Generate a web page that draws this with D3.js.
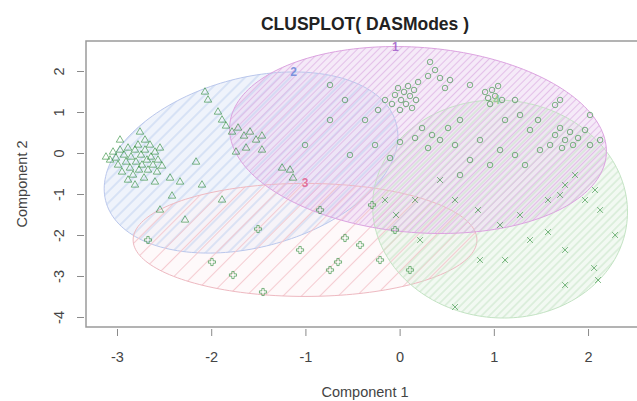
<!DOCTYPE html>
<html>
<head>
<meta charset="utf-8">
<script src="https://cdn.jsdelivr.net/npm/d3@7"></script>
<style>
  body { margin: 0; background: #fff; }
  text { font-family: "Liberation Sans", Arial, sans-serif; }
</style>
</head>
<body>
<div id="chart"></div>
<script>
// tick values
const xTicks = [-3, -2, -1, 0, 1, 2]
const yTicks = [-4, -3, -2, -1, 0, 1, 2]

// clusters: label, ellipse centre and shape matrix [a, b, c] (like cov in ellipsoidPoints)
const clusterLabels = ["1", "2", "3", "4"]
const ellipseCenters = [[0.195, 0.317], [-1.577, -0.232], [-1.004, -2.12], [1.066, -1.366]]
const ellipseShapes = [[4.0, -0.55, 5.2], [2.43, 1.0, 4.88], [3.33, 0.0, 1.9], [1.83, -0.1, 7.07]]

// observations, by cluster  [component 1, component 2]
const cluster1Points = [
  [-0.049, 1.415], [-0.017, 1.585], [0.015, 1.293], [0.047, 1.488], [0.068, 1.195], [0.089, 1.634],
  [0.110, 1.390], [0.132, 1.098], [0.153, 1.537], [0.174, 1.293], [0.004, 1.049], [-0.081, 1.195],
  [0.196, 1.732], [-0.155, 1.293], [-0.229, 1.049], [0.323, 2.220], [0.376, 2.024], [0.429, 1.829],
  [0.302, 1.878], [0.482, 1.585], [0.535, 1.780], [0.238, 0.610], [0.344, 0.439], [0.429, 0.317],
  [0.514, 0.610], [0.588, 0.195], [0.302, 0.122], [0.164, 0.366], [0.641, 0.805], [0.004, 0.268],
  [-0.102, -0.122], [-0.261, 0.195], [-0.367, 0.805], [-0.580, 1.293], [-0.739, 0.805], [-0.527, -0.049],
  [-0.739, 1.659], [0.907, 1.488], [0.939, 1.341], [0.981, 1.537], [1.013, 1.390], [0.960, 1.195],
  [1.045, 1.634], [1.087, 1.293], [0.747, 1.659], [1.225, 1.293], [1.119, 0.805], [1.278, 0.927],
  [1.384, 0.561], [0.853, 0.317], [1.066, 0.073], [1.225, -0.049], [1.331, -0.293], [1.490, 0.073],
  [0.960, -0.293], [0.747, -0.171], [0.641, -0.537], [1.650, 0.439], [1.703, 0.610], [1.756, 0.317],
  [1.809, 0.512], [1.841, 0.195], [1.894, 0.366], [1.724, 0.122], [1.968, 0.561], [1.597, 0.195],
  [2.021, 0.195], [1.650, 1.171], [1.703, 1.293], [1.469, 0.805], [2.021, 0.927], [2.128, 0.317],
  [-1.004, 0.195]
]
const cluster2Points = [
  [-3.074, -0.171], [-3.042, 0.024], [-3.011, -0.122], [-2.989, -0.293], [-2.968, 0.073], [-2.947, -0.463],
  [-2.926, -0.049], [-2.904, -0.220], [-2.883, 0.122], [-2.862, -0.366], [-2.851, -0.098], [-2.830, -0.537],
  [-2.809, 0.073], [-2.798, -0.220], [-2.777, 0.195], [-2.766, -0.415], [-2.745, -0.049], [-2.735, -0.293],
  [-2.713, -0.610], [-2.703, 0.073], [-2.682, -0.171], [-2.671, -0.415], [-2.650, 0.195], [-2.639, -0.098],
  [-2.618, -0.293], [-2.597, 0.024], [-2.575, -0.463], [-2.565, -0.171], [-2.544, 0.122], [-2.522, -0.317],
  [-2.883, -0.659], [-2.809, -0.780], [-2.968, 0.317], [-2.703, 0.317], [-3.117, -0.098], [-2.756, 0.512],
  [-2.597, -0.707], [-2.066, 1.488], [-2.034, 1.293], [-1.928, 1.000], [-1.885, 0.805], [-1.843, 0.659],
  [-1.779, 0.512], [-1.715, 0.610], [-1.652, 0.415], [-1.588, 0.512], [-1.524, 0.317], [-1.461, 0.415],
  [-1.630, 0.122], [-1.737, 0.024], [-1.461, 0.073], [-2.161, -0.220], [-2.437, -0.610], [-2.331, -0.707],
  [-2.098, -0.780], [-2.416, -1.049], [-1.885, -1.146], [-2.544, -1.390], [-2.278, -1.634], [-1.163, -0.415],
  [-1.132, -0.610], [-1.248, -0.366]
]
const cluster3Points = [
  [-2.671, -2.122], [-1.503, -1.854], [-1.992, -2.659], [-1.769, -2.976], [-1.450, -3.390], [-0.845, -1.390],
  [-0.580, -2.073], [-0.654, -2.659], [-0.420, -2.244], [-0.293, -1.268], [-1.057, -2.366], [-0.739, -2.854],
  [-0.208, -2.610], [0.110, -2.854], [-0.049, -1.878]
]
const cluster4Points = [
  [1.756, -0.780], [1.862, -0.537], [1.703, -1.024], [1.968, -1.146], [2.074, -0.902], [1.575, -1.146],
  [2.128, -1.390], [1.278, -1.512], [1.384, -2.122], [1.575, -1.927], [1.756, -2.366], [2.064, -2.805],
  [2.106, -3.098], [1.756, -3.220], [0.853, -2.610], [0.588, -3.756], [0.217, -2.122], [1.066, -1.756],
  [1.119, -2.610], [2.287, -2.000], [0.832, -1.390], [0.588, -1.146], [0.429, -0.659], [0.164, -1.146],
  [-0.038, -1.512], [-0.155, -1.146]
]

const clusterPoints = [cluster1Points, cluster2Points, cluster3Points, cluster4Points]

// styles
const fillColors = ["#ecd6f1", "#dfe7f8", "#fdf3f5", "#e6f4e6"]
const hatchColors = ["#e0b9e6", "#bccdef", "#f3c4cb", "#c6e5c6"]
const hatchGaps = [5, 8, 13, 5.5]
const borderColors = ["#dca3e0", "#bac7ec", "#eeb9c1", "#c3e3c3"]
const labelColors = ["#a05ac8", "#6b84d8", "#e0608e", "#8cc88c"]
const pointSymbols = [d3.symbolCircle, d3.symbolTriangle, d3.symbolCross, d3.symbolX]

const W = 637, H = 401
const plotLeft = 86, plotRight = 644, plotTop = 41, plotBottom = 327

const svg = d3.select("#chart").append("svg")
  .attr("width", W)
  .attr("height", H)

const x = d3.scaleLinear()
  .domain([-3.329, 2.594])
  .range([plotLeft, plotRight])

const y = d3.scaleLinear()
  .domain([-4.244, 2.732])
  .range([plotBottom, plotTop])

const defs = svg.append("defs")

defs.append("clipPath").attr("id", "plotclip")
  .append("rect")
  .attr("x", plotLeft).attr("y", plotTop)
  .attr("width", plotRight - plotLeft).attr("height", plotBottom - plotTop)

clusterLabels.forEach((lab, i) => {
  let p = defs.append("pattern")
    .attr("id", "hatch" + i)
    .attr("patternUnits", "userSpaceOnUse")
    .attr("width", 20)
    .attr("height", hatchGaps[i])
    .attr("patternTransform", "rotate(-45)")
  p.append("line")
    .attr("x1", 0).attr("x2", 20)
    .attr("y1", hatchGaps[i] / 2).attr("y2", hatchGaps[i] / 2)
    .attr("stroke", hatchColors[i])
    .attr("stroke-width", 1.1)
})

// ellipse outline from centre + Cholesky factor of shape matrix
function ellipsePoints(center, shape) {
  let a = shape[0], b = shape[1], c = shape[2]
  let l11 = Math.sqrt(a), l21 = b / l11, l22 = Math.sqrt(c - l21 * l21)
  return d3.range(0, 2 * Math.PI, Math.PI / 90).map(t => [
    center[0] + l11 * Math.cos(t),
    center[1] + l21 * Math.cos(t) + l22 * Math.sin(t)
  ])
}

const line = d3.line()
  .x(d => x(d[0]))
  .y(d => y(d[1]))
  .curve(d3.curveLinearClosed)

const plot = svg.append("g").attr("clip-path", "url(#plotclip)")

// light tint first, then hatching and borders
const order = [1, 2, 3, 0]
order.forEach(i => {
  plot.append("path")
    .attr("d", line(ellipsePoints(ellipseCenters[i], ellipseShapes[i])))
    .attr("fill", fillColors[i])
    .attr("fill-opacity", 0.5)
    .attr("stroke", "none")
})
order.forEach(i => {
  plot.append("path")
    .attr("d", line(ellipsePoints(ellipseCenters[i], ellipseShapes[i])))
    .attr("fill", "url(#hatch" + i + ")")
    .attr("fill-opacity", 0.85)
    .attr("stroke", borderColors[i])
    .attr("stroke-width", 1)
})

// points
clusterPoints.forEach((pts, i) => {
  plot.append("g")
    .selectAll("path")
    .data(pts)
    .enter()
    .append("path")
    .attr("transform", d => "translate(" + x(d[0]) + "," + y(d[1]) + ")")
    .attr("d", d3.symbol().type(pointSymbols[i]).size(i == 2 ? 28 : 24))
    .attr("fill", "none")
    .attr("stroke", "#2a8a36")
    .attr("stroke-opacity", 0.6)
    .attr("stroke-width", 1)
})

// ellipse labels at the top of each ellipse
clusterLabels.forEach((lab, i) => {
  let c = ellipseCenters[i], s = ellipseShapes[i]
  let top = [c[0] + s[1] / Math.sqrt(s[2]), c[1] + Math.sqrt(s[2])]
  svg.append("text")
    .attr("x", x(top[0]))
    .attr("y", y(top[1]) + 4)
    .attr("text-anchor", "middle")
    .attr("font-size", 12)
    .attr("font-weight", "bold")
    .attr("fill", labelColors[i])
    .attr("fill-opacity", 0.85)
    .text(lab)
})

// box
svg.append("rect")
  .attr("x", plotLeft).attr("y", plotTop)
  .attr("width", plotRight - plotLeft).attr("height", plotBottom - plotTop)
  .attr("fill", "none")
  .attr("stroke", "#9a9a9a")
  .attr("stroke-width", 1.5)

// axes
const xAxis = d3.axisBottom(x).tickValues(xTicks).tickSize(7).tickPadding(16)
const yAxis = d3.axisLeft(y).tickValues(yTicks).tickSize(7)

const gx = svg.append("g")
  .attr("transform", "translate(0," + (plotBottom + 2) + ")")
  .call(xAxis)
gx.select(".domain").remove()
gx.selectAll("line").attr("stroke", "#8a8a8a")
gx.selectAll("text")
  .attr("font-size", 14.5)
  .attr("fill", "#444")
  .attr("font-family", "Liberation Sans, Arial, sans-serif")
  .text(d => d < 0 ? "-" + Math.abs(d) : d)

const gy = svg.append("g")
  .attr("transform", "translate(" + (plotLeft - 2) + ",0)")
  .call(yAxis)
gy.select(".domain").remove()
gy.selectAll("line").attr("stroke", "#8a8a8a")
gy.selectAll("text")
  .attr("font-size", 14.5)
  .attr("fill", "#444")
  .attr("font-family", "Liberation Sans, Arial, sans-serif")
  .attr("text-anchor", "middle")
  .attr("x", 0)
  .attr("dy", 0)
  .attr("transform", "translate(" + (64 - plotLeft + 2) + ",0) rotate(-90)")
  .text(d => d < 0 ? "-" + Math.abs(d) : d)

// titles
svg.append("text")
  .attr("x", 365).attr("y", 30)
  .attr("text-anchor", "middle")
  .attr("font-size", 17.5)
  .attr("font-weight", "bold")
  .attr("fill", "#222")
  .text("CLUSPLOT( DASModes )")

svg.append("text")
  .attr("x", 365).attr("y", 397)
  .attr("text-anchor", "middle")
  .attr("font-size", 14.5)
  .attr("fill", "#444")
  .text("Component 1")

svg.append("text")
  .attr("transform", "translate(27," + ((plotTop + plotBottom) / 2) + ") rotate(-90)")
  .attr("text-anchor", "middle")
  .attr("font-size", 14.5)
  .attr("fill", "#444")
  .text("Component 2")
</script>
</body>
</html>
